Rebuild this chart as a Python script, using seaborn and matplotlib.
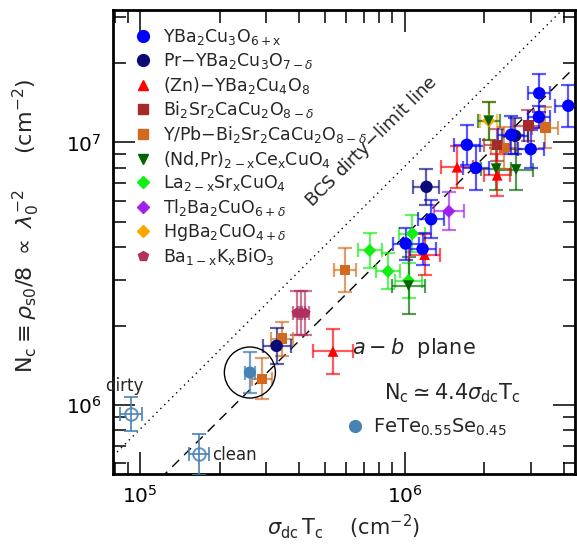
import numpy as np
import pandas as pd
import matplotlib
matplotlib.use('Agg')
import matplotlib.pyplot as plt
import seaborn as sns
from matplotlib.lines import Line2D

# --- datos (sigma_dc*Tc, Nc) y errores relativos ---
ybco_x = [3.23e6, 4.16e6, 3.22e6, 2.53e6, 1.72e6, 3.00e6, 1.86e6, 1.26e6, 1.01e6, 1.17e6]
ybco_y = [1.54e7, 1.38e7, 1.25e7, 1.07e7, 9.8e6, 9.43e6, 8.0e6, 5.1e6, 4.12e6, 3.93e6]
ybco_ex = [0.10, 0.12, 0.10, 0.12, 0.12, 0.12, 0.12, 0.12, 0.12, 0.12]
ybco_ey = [0.18, 0.20, 0.10, 0.18, 0.19, 0.18, 0.21, 0.18, 0.15, 0.15]

pr_x = [2.62e6, 1.21e6, 3.28e5]
pr_y = [1.06e7, 6.78e6, 1.68e6]
pr_ex = [0.12, 0.12, 0.13]
pr_ey = [0.17, 0.17, 0.17]

zn_x = [1.58e6, 2.24e6, 1.19e6, 5.36e5]
zn_y = [8.05e6, 7.5e6, 3.74e6, 1.6e6]
zn_ex = [0.15, 0.12, 0.14, 0.19]
zn_ey = [0.20, 0.20, 0.20, 0.22]

bi_x = [2.94e6, 2.24e6]
bi_y = [1.16e7, 9.8e6]
bi_ex = [0.14, 0.12]
bi_ey = [0.15, 0.15]

ypb_x = [3.41e6, 2.38e6, 5.94e5, 3.44e5, 2.89e5]
ypb_y = [1.14e7, 9.55e6, 3.27e6, 1.79e6, 1.26e6]
ypb_ex = [0.12, 0.12, 0.10, 0.10, 0.09]
ypb_ey = [0.20, 0.20, 0.21, 0.16, 0.20]

ndpr_x = [2.08e6, 2.22e6, 2.64e6, 1.035e6]
ndpr_y = [1.21e7, 7.94e6, 7.89e6, 2.85e6]
ndpr_ex = [0.10, 0.14, 0.16, 0.15]
ndpr_ey = [0.18, 0.20, 0.20, 0.28]

lsco_x = [1.07e6, 7.38e5, 8.65e5, 1.035e6]
lsco_y = [4.5e6, 3.88e6, 3.23e6, 2.98e6]
lsco_ex = [0.12, 0.11, 0.11, 0.12]
lsco_ey = [0.18, 0.17, 0.17, 0.17]

tl_x = [1.47e6]
tl_y = [5.47e6]
tl_ex = [0.14]
tl_ey = [0.18]

hg_x = [2.08e6]
hg_y = [1.21e7]
hg_ex = [0.08]
hg_ey = [0.18]

bkbo_x = [3.91e5, 4.07e5, 4.21e5]
bkbo_y = [2.24e6, 2.24e6, 2.24e6]
bkbo_ex = [0.03, 0.03, 0.03]
bkbo_ey = [0.21, 0.21, 0.21]

fete_x = [2.60e5]
fete_y = [1.33e6]
fete_ex = [0.045]
fete_ey = [0.20]

open_x = [9.22e4, 1.67e5]      # dirty, clean
open_y = [9.22e5, 6.48e5]
open_ex = [0.10, 0.09]
open_ey = [0.16, 0.20]

x_lim = (7.9e4, 4.4e6)
y_lim = (5.46e5, 3.2e7)
ley_homes = 4.4
bcs_dirty = 8.1

series = [
    ('YBa$_2$Cu$_3$O$_{\\mathrm{6+x}}$', ybco_x, ybco_y, ybco_ex, ybco_ey, 'o', '#0000ff', 80),
    ('Pr$-$YBa$_2$Cu$_3$O$_{7-\\delta}$', pr_x, pr_y, pr_ex, pr_ey, 'o', '#0b0b78', 80),
    ('(Zn)$-$YBa$_2$Cu$_4$O$_8$', zn_x, zn_y, zn_ex, zn_ey, '^', '#ff0000', 60),
    ('Bi$_2$Sr$_2$CaCu$_2$O$_{8-\\delta}$', bi_x, bi_y, bi_ex, bi_ey, 's', '#a52a2a', 55),
    ('Y/Pb$-$Bi$_2$Sr$_2$CaCu$_2$O$_{8-\\delta}$', ypb_x, ypb_y, ypb_ex, ypb_ey, 's', '#d2691e', 55),
    ('(Nd,Pr)$_{\\mathrm{2-x}}$Ce$_{\\mathrm{x}}$CuO$_4$', ndpr_x, ndpr_y, ndpr_ex, ndpr_ey, 'v', '#006400', 60),
    ('La$_{\\mathrm{2-x}}$Sr$_{\\mathrm{x}}$CuO$_4$', lsco_x, lsco_y, lsco_ex, lsco_ey, 'D', '#11ee11', 45),
    ('Tl$_2$Ba$_2$CuO$_{6+\\delta}$', tl_x, tl_y, tl_ex, tl_ey, 'D', '#a020f0', 45),
    ('HgBa$_2$CuO$_{4+\\delta}$', hg_x, hg_y, hg_ex, hg_ey, 'D', '#ffa500', 45),
    ('Ba$_{\\mathrm{1-x}}$K$_{\\mathrm{x}}$BiO$_3$', bkbo_x, bkbo_y, bkbo_ex, bkbo_ey, 'p', '#b03060', 65),
]

sns.set_style('ticks')
plt.rcParams['font.family'] = ['DejaVu Sans']
plt.rcParams['mathtext.fontset'] = 'dejavusans'

fig = plt.figure(figsize=(5.77, 5.48), dpi=100)
ax = fig.add_axes([0.196, 0.135, 0.8, 0.847])
ax.set_xscale('log')
ax.set_yscale('log')


def err(v, f):
    v = np.asarray(v, float)
    f = np.asarray(f, float)
    return np.vstack([v - v / (1 + f), v * f])


# lineas de referencia
xl = np.geomspace(*x_lim, 50)
ax.plot(xl, ley_homes * xl, color='k', lw=1.0, dashes=(7, 5), zorder=1)
ax.plot(xl, bcs_dirty * xl, color='k', lw=1.0, ls=(0, (1, 3)), zorder=1)

handles = []
# dibujar al reves para que YBCO quede arriba
for lab, xs, ys, ex, ey, mk, col, s in series[::-1]:
    ax.errorbar(xs, ys, xerr=err(xs, ex), yerr=err(ys, ey), fmt='none',
                ecolor=col, alpha=0.65, elinewidth=1.6, capsize=5, capthick=1.6, zorder=2)
    df = pd.DataFrame({'x': xs, 'y': ys})
    sns.scatterplot(data=df, x='x', y='y', marker=mk, color=col, s=s,
                    edgecolor='none', ax=ax, zorder=3, legend=False)
for lab, xs, ys, ex, ey, mk, col, s in series:
    handles.append(Line2D([], [], ls='none', marker=mk, color=col,
                          markersize=np.sqrt(s) * 0.95, label=lab))

# FeTe0.55Se0.45
fe_col = '#4682b4'
ax.errorbar(fete_x, fete_y, xerr=err(fete_x, fete_ex), yerr=err(fete_y, fete_ey),
            fmt='none', ecolor=fe_col, alpha=0.75, elinewidth=1.6, capsize=5, capthick=1.6, zorder=2)
sns.scatterplot(x=fete_x, y=fete_y, marker='o', color=fe_col, s=75, edgecolor='none',
                ax=ax, zorder=4, legend=False)
ax.scatter(fete_x, fete_y, s=1350, facecolors='none', edgecolors='k', linewidths=1.0, zorder=4)

ax.errorbar(open_x, open_y, xerr=err(open_x, open_ex), yerr=err(open_y, open_ey),
            fmt='o', mfc='none', mec=fe_col, ms=9, mew=1.4, ecolor=fe_col, alpha=0.85,
            elinewidth=1.4, capsize=5, capthick=1.4, zorder=3)

ax.set_xlim(*x_lim)
ax.set_ylim(*y_lim)

leg1 = ax.legend(handles=handles, loc='upper left', bbox_to_anchor=(0.02, 0.977),
                 frameon=False, fontsize=12.5, handletextpad=0.35, labelspacing=0.21,
                 borderaxespad=0, handlelength=1.6)
ax.add_artist(leg1)
fe_h = Line2D([], [], ls='none', marker='o', color=fe_col, markersize=8.5,
              label='FeTe$_{0.55}$Se$_{0.45}$')
ax.legend(handles=[fe_h], loc='center left', bbox_to_anchor=(0.475, 0.101), frameon=False,
          fontsize=14, handletextpad=0.2, borderaxespad=0, handlelength=1.5)

ax.text(0.652, 0.272, r'$a-b$  plane', transform=ax.transAxes, fontsize=15,
        ha='center', va='center')
ax.text(0.735, 0.175, r'N$_\mathrm{c}\simeq 4.4\sigma_{\mathrm{dc}}$T$_\mathrm{c}$',
        transform=ax.transAxes, fontsize=15, ha='center', va='center')
ax.text(0.56, 0.716, r'BCS dirty$-$limit line', transform=ax.transAxes, fontsize=13,
        ha='center', va='center', rotation=44.7)
ax.text(0.024, 0.19, 'dirty', transform=ax.transAxes, fontsize=12, ha='center', va='center')
ax.text(0.262, 0.041, 'clean', transform=ax.transAxes, fontsize=12, ha='center', va='center')

ax.set_xlabel(r'$\sigma_{\mathrm{dc}}\,\mathrm{T_c}$    (cm$^{-2}$)', fontsize=15, va='center')
ax.set_ylabel(r'N$_\mathrm{c}\equiv\rho_{\mathrm{s0}}/8\ \propto\ \lambda_0^{-2}$     (cm$^{-2}$)',
              fontsize=16, va='center')
ax.xaxis.set_label_coords(0.5, -0.114)
ax.yaxis.set_label_coords(-0.188, 0.535)

for sp in ax.spines.values():
    sp.set_linewidth(2)
    sp.set_color('k')
ax.tick_params(which='both', direction='in', top=True, right=True, labelsize=14.5, pad=8,
               colors='k')
ax.tick_params(which='major', length=16, width=1.1)
ax.tick_params(which='minor', length=9, width=1.1)

fig.savefig('out.png', dpi=100)
